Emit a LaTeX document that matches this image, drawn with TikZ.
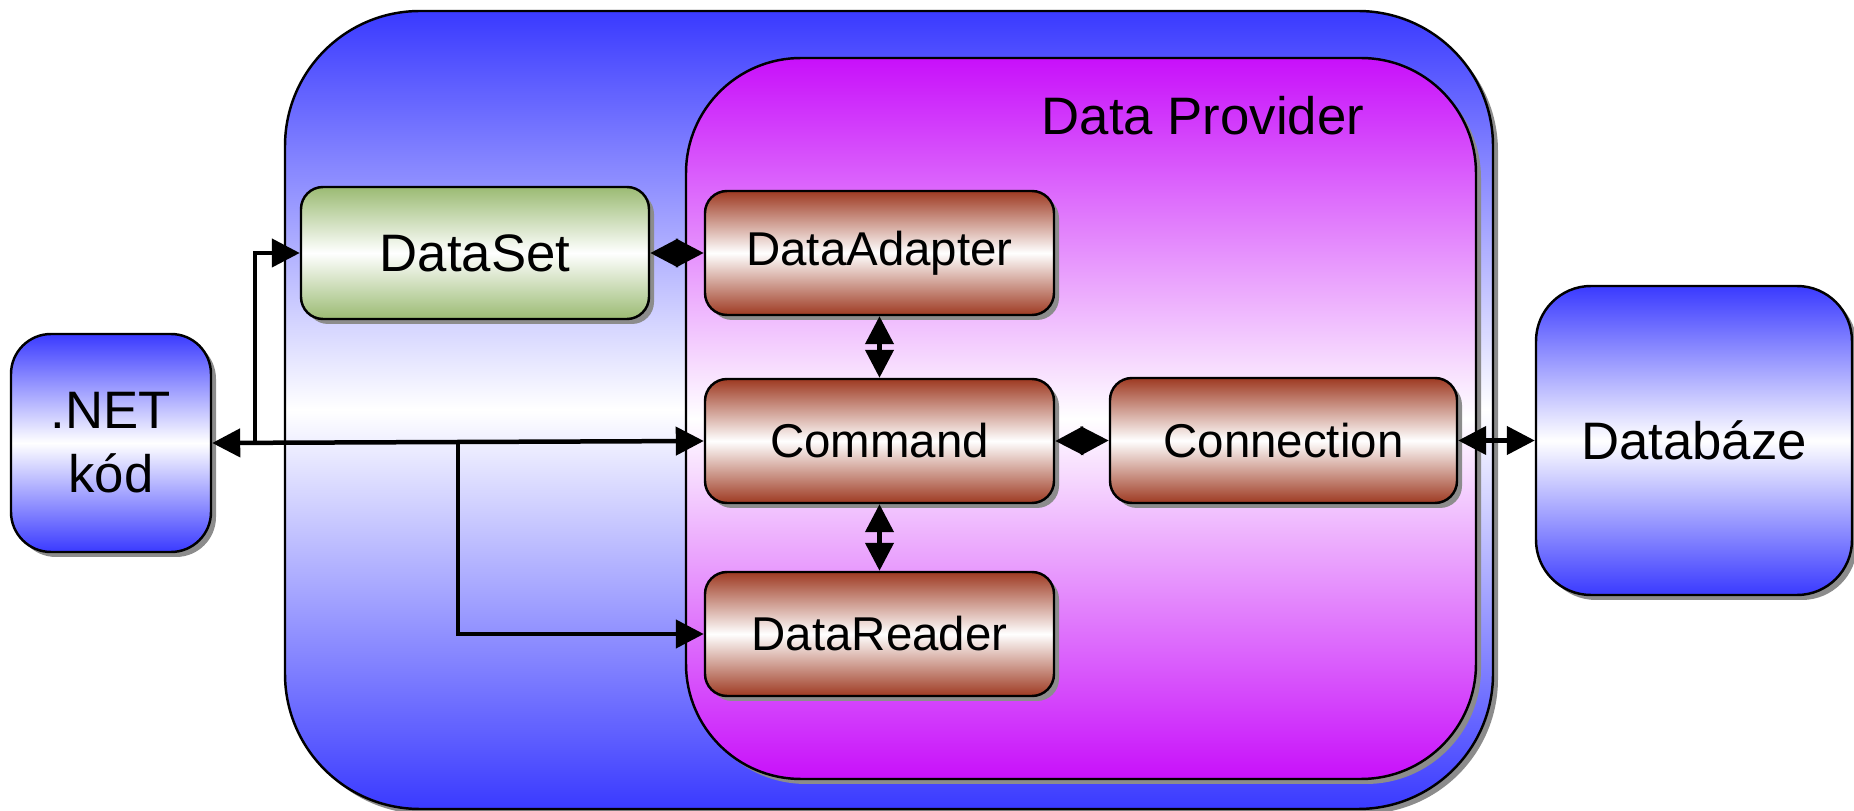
\documentclass[tikz,border=0pt]{standalone}
\usepackage{fontspec}
\setmainfont{Liberation Sans}
\usetikzlibrary{arrows.meta,shadows}

\definecolor{provblue}{RGB}{58,58,255}
\definecolor{provmag}{RGB}{200,16,250}
\definecolor{dsgreen}{RGB}{155,187,115}
\definecolor{brn}{RGB}{158,58,34}

\tikzset{
  shadowed/.style={drop shadow={shadow xshift=0.5mm, shadow yshift=-0.5mm, fill=black!45, opacity=1}},
  container/.style={shadowed, draw=black, line width=0.7pt, inner sep=0pt},
  box/.style={shadowed, draw=black, line width=0.7pt, inner sep=0pt, rounded corners=2.2mm},
  bluebox/.style={box, top color=provblue, bottom color=provblue, middle color=white,
    font=\fontsize{15}{18.2}\selectfont, align=center},
  greenbox/.style={box, top color=dsgreen, bottom color=dsgreen, middle color=white,
    minimum width=34.8mm, minimum height=13.2mm, font=\fontsize{15}{18}\selectfont},
  brownbox/.style={box, top color=brn, bottom color=brn, middle color=white,
    minimum width=34.9mm, minimum height=12.4mm, font=\fontsize{13.5}{16}\selectfont},
  tip/.tip={Triangle[length=2.8mm,width=2.8mm]},
  link/.style={line width=0.45mm, tip-tip},
  feed/.style={line width=0.45mm, -tip},
}

\begin{document}
\begin{tikzpicture}[x=0.1mm, y=-0.1mm]
  \useasboundingbox (0,0) rectangle (1854,811);

  % application layer and the provider inside it
  \node[container, rounded corners=13.5mm, top color=provblue, bottom color=provblue,
        middle color=white, minimum width=120.8mm, minimum height=79.8mm]
        (outer) at (889,410) {};
  \node[container, rounded corners=11.5mm, top color=provmag, bottom color=provmag,
        middle color=white, minimum width=79.0mm, minimum height=72.1mm]
        (inner) at (1081,418.5) {};
  \node[anchor=base, font=\fontsize{15}{18}\selectfont] (title) at (1203,135) {Data Provider};

  % components
  \node[bluebox, rounded corners=4mm, minimum width=20.0mm, minimum height=21.8mm]
        (net) at (111,443) {.NET\\kód};
  \node[greenbox] (ds) at (475,253) {DataSet};
  \node[brownbox] (da) at (879.5,253) {DataAdapter};
  \node[brownbox] (cmd) at (879.5,441) {Command};
  \node[brownbox] (dr) at (879.5,634) {DataReader};
  \node[brownbox, minimum width=34.7mm, minimum height=12.5mm] (conn) at (1283.5,440.5) {Connection};
  \node[bluebox, rounded corners=5.5mm, minimum width=31.6mm, minimum height=30.9mm]
        (db) at (1694,440.5) {Databáze};

  % branch points on the main line
  \coordinate (j1) at (255,442);
  \coordinate (j2) at (458,442);

  % connectors
  \draw[link] (net.east) -- (cmd.west);
  \draw[feed] (j1) |- (ds.west);
  \draw[feed] (j2) |- (dr.west);
  \draw[link] (ds.east) -- (da.west);
  \draw[link] (da.south) -- (cmd.north);
  \draw[link] (cmd.south) -- (dr.north);
  \draw[link] (cmd.east) -- (conn.west);
  \draw[link] (conn.east) -- (db.west);
\end{tikzpicture}
\end{document}
